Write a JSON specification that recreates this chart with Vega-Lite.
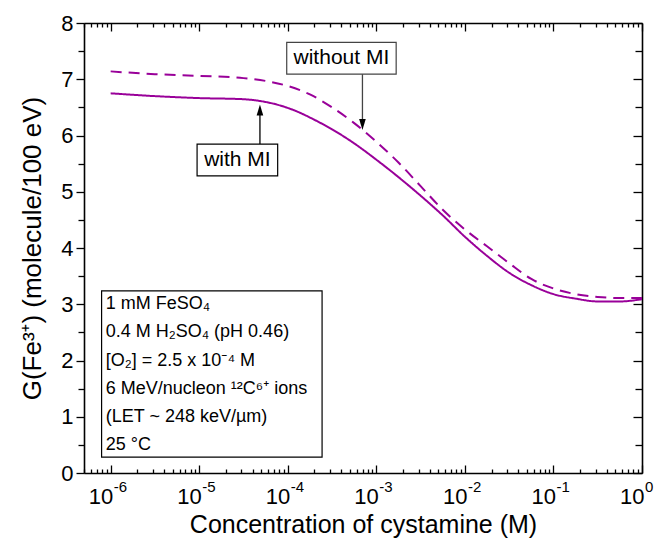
{
  "$schema": "https://vega.github.io/schema/vega-lite/v6.json",
  "width": 558,
  "height": 450,
  "autosize": {"type": "none"},
  "padding": {"left": 84, "top": 23, "right": 19, "bottom": 75},
  "config": {
    "font": "Liberation Sans",
    "view": {"stroke": null},
    "axis": {
      "domainColor": "black",
      "domainWidth": 1.6,
      "tickColor": "black",
      "tickWidth": 1.3,
      "labelColor": "black",
      "titleColor": "black",
      "grid": false,
      "labelFont": "Liberation Sans",
      "titleFont": "Liberation Sans, Noto Sans",
      "titleFontWeight": "normal",
      "labelOverlap": false,
      "labelFlush": false,
      "labelBound": false
    }
  },
  "datasets": {
    "curves": [
      {"c": 1e-6, "g": 6.75, "s": "with MI"},
      {"c": 3.162e-6, "g": 6.70, "s": "with MI"},
      {"c": 1e-5, "g": 6.665, "s": "with MI"},
      {"c": 3.162e-5, "g": 6.645, "s": "with MI"},
      {"c": 5.012e-5, "g": 6.61, "s": "with MI"},
      {"c": 7.943e-5, "g": 6.54, "s": "with MI"},
      {"c": 1.259e-4, "g": 6.43, "s": "with MI"},
      {"c": 1.995e-4, "g": 6.28, "s": "with MI"},
      {"c": 3.162e-4, "g": 6.11, "s": "with MI"},
      {"c": 5.623e-4, "g": 5.86, "s": "with MI"},
      {"c": 1e-3, "g": 5.57, "s": "with MI"},
      {"c": 1.778e-3, "g": 5.26, "s": "with MI"},
      {"c": 3.162e-3, "g": 4.93, "s": "with MI"},
      {"c": 5.623e-3, "g": 4.58, "s": "with MI"},
      {"c": 0.01, "g": 4.20, "s": "with MI"},
      {"c": 0.01778, "g": 3.86, "s": "with MI"},
      {"c": 0.03162, "g": 3.56, "s": "with MI"},
      {"c": 0.05623, "g": 3.34, "s": "with MI"},
      {"c": 0.1, "g": 3.18, "s": "with MI"},
      {"c": 0.1778, "g": 3.10, "s": "with MI"},
      {"c": 0.3162, "g": 3.05, "s": "with MI"},
      {"c": 0.5623, "g": 3.05, "s": "with MI"},
      {"c": 1, "g": 3.09, "s": "with MI"},
      {"c": 1e-6, "g": 7.14, "s": "without MI"},
      {"c": 3.162e-6, "g": 7.09, "s": "without MI"},
      {"c": 1e-5, "g": 7.06, "s": "without MI"},
      {"c": 3.162e-5, "g": 7.02, "s": "without MI"},
      {"c": 5.623e-5, "g": 6.97, "s": "without MI"},
      {"c": 1e-4, "g": 6.88, "s": "without MI"},
      {"c": 1.778e-4, "g": 6.73, "s": "without MI"},
      {"c": 3.162e-4, "g": 6.50, "s": "without MI"},
      {"c": 5.623e-4, "g": 6.22, "s": "without MI"},
      {"c": 1e-3, "g": 5.89, "s": "without MI"},
      {"c": 1.778e-3, "g": 5.52, "s": "without MI"},
      {"c": 3.162e-3, "g": 5.10, "s": "without MI"},
      {"c": 5.623e-3, "g": 4.68, "s": "without MI"},
      {"c": 0.01, "g": 4.33, "s": "without MI"},
      {"c": 0.01778, "g": 4.03, "s": "without MI"},
      {"c": 0.03162, "g": 3.73, "s": "without MI"},
      {"c": 0.05623, "g": 3.45, "s": "without MI"},
      {"c": 0.1, "g": 3.28, "s": "without MI"},
      {"c": 0.1778, "g": 3.18, "s": "without MI"},
      {"c": 0.3162, "g": 3.13, "s": "without MI"},
      {"c": 0.5623, "g": 3.11, "s": "without MI"},
      {"c": 1, "g": 3.11, "s": "without MI"}
    ],
    "boxes": [
      {"name": "conditions", "x1": 7.9e-7, "x2": 2.44e-4, "y1": 0.283, "y2": 3.237},
      {"name": "with MI", "x1": 9.46e-6, "x2": 7.69e-5, "y1": 5.283, "y2": 5.847},
      {"name": "without MI", "x1": 9.73e-5, "x2": 1.675e-3, "y1": 7.09, "y2": 7.655}
    ],
    "labels": [
      {"name": "with MI", "c": 2.7e-5, "g": 5.568},
      {"name": "without MI", "c": 4.03e-4, "g": 7.374}
    ],
    "conditions": [
      {"t": "1 mM FeSO₄", "c": 8.8e-7, "g": 3.0},
      {"t": "0.4 M H₂SO₄ (pH 0.46)", "c": 8.8e-7, "g": 2.5},
      {"t": "[O₂] = 2.5 x 10⁻⁴ M", "c": 8.8e-7, "g": 2.0},
      {"t": "6 MeV/nucleon ¹²C⁶⁺ ions", "c": 8.8e-7, "g": 1.5},
      {"t": "(LET ~ 248 keV/µm)", "c": 8.8e-7, "g": 1.0},
      {"t": "25 °C", "c": 8.8e-7, "g": 0.5}
    ],
    "exponents": [
      {"c": 1e-6, "e": "-6"},
      {"c": 1e-5, "e": "-5"},
      {"c": 1e-4, "e": "-4"},
      {"c": 1e-3, "e": "-3"},
      {"c": 1e-2, "e": "-2"},
      {"c": 1e-1, "e": "-1"},
      {"c": 1, "e": "0"}
    ],
    "arrows": [
      {"name": "with MI", "c": 4.85e-5, "y1": 5.847, "y2": 6.4},
      {"name": "without MI", "c": 6.97e-4, "y1": 7.09, "y2": 6.25}
    ],
    "heads": [
      {"name": "with MI", "c": 4.85e-5, "g": 6.55},
      {"name": "without MI", "c": 6.97e-4, "g": 6.10}
    ]
  },
  "layer": [
    {
      "data": {"name": "curves"},
      "mark": {"type": "line", "strokeWidth": 2, "interpolate": "monotone", "clip": true},
      "encoding": {
        "x": {
          "field": "c", "type": "quantitative",
          "scale": {"type": "log", "domain": [5e-7, 1], "nice": false},
          "axis": {
            "orient": "bottom",
            "title": "Concentration of cystamine (M)",
            "values": [5e-7, 6e-7, 7e-7, 8e-7, 9e-7, 1e-6, 2e-6, 3e-6, 4e-6, 5e-6, 6e-6, 7e-6, 8e-6, 9e-6, 1e-5, 2e-5, 3e-5, 4e-5, 5e-5, 6e-5, 7e-5, 8e-5, 9e-5, 1e-4, 2e-4, 3e-4, 4e-4, 5e-4, 6e-4, 7e-4, 8e-4, 9e-4, 1e-3, 2e-3, 3e-3, 4e-3, 5e-3, 6e-3, 7e-3, 8e-3, 9e-3, 0.01, 0.02, 0.03, 0.04, 0.05, 0.06, 0.07, 0.08, 0.09, 0.1, 0.2, 0.3, 0.4, 0.5, 0.6, 0.7, 0.8, 0.9, 1],
            "labelExpr": "abs(log(datum.value)/LN10 - round(log(datum.value)/LN10)) < 0.001 ? '10' : ''",
            "labelAlign": "right",
            "labelOffset": 2,
            "tickSize": {"condition": {"test": "abs(log(datum.value)/LN10 - round(log(datum.value)/LN10)) < 0.001", "value": -8}, "value": -4},
            "labelPadding": 21,
            "labelFontSize": 22,
            "titleFontSize": 25,
            "titlePadding": 1
          }
        },
        "y": {
          "field": "g", "type": "quantitative",
          "scale": {"domain": [0, 8], "nice": false},
          "axis": {
            "orient": "left",
            "title": "G(Fe³⁺) (molecule/100 eV)",
            "values": [0, 0.5, 1, 1.5, 2, 2.5, 3, 3.5, 4, 4.5, 5, 5.5, 6, 6.5, 7, 7.5, 8],
            "labelExpr": "datum.value % 1 == 0 ? format(datum.value, 'd') : ''",
            "tickSize": {"condition": {"test": "datum.value % 1 == 0", "value": 8}, "value": 6},
            "labelPadding": 3,
            "labelFontSize": 22,
            "titleFontSize": 26,
            "titlePadding": 15
          }
        },
        "color": {"field": "s", "type": "nominal", "scale": {"domain": ["with MI", "without MI"], "range": ["#990099", "#990099"]}, "legend": null},
        "strokeDash": {"field": "s", "type": "nominal", "scale": {"domain": ["with MI", "without MI"], "range": [[1, 0], [11, 7]]}, "legend": null}
      }
    },
    {
      "data": {"name": "curves"},
      "mark": {"type": "point", "opacity": 0},
      "encoding": {
        "x": {
          "field": "c", "type": "quantitative",
          "axis": {
            "orient": "top",
            "title": null,
            "labels": false,
            "values": [5e-7, 6e-7, 7e-7, 8e-7, 9e-7, 1e-6, 2e-6, 3e-6, 4e-6, 5e-6, 6e-6, 7e-6, 8e-6, 9e-6, 1e-5, 2e-5, 3e-5, 4e-5, 5e-5, 6e-5, 7e-5, 8e-5, 9e-5, 1e-4, 2e-4, 3e-4, 4e-4, 5e-4, 6e-4, 7e-4, 8e-4, 9e-4, 1e-3, 2e-3, 3e-3, 4e-3, 5e-3, 6e-3, 7e-3, 8e-3, 9e-3, 0.01, 0.02, 0.03, 0.04, 0.05, 0.06, 0.07, 0.08, 0.09, 0.1, 0.2, 0.3, 0.4, 0.5, 0.6, 0.7, 0.8, 0.9, 1],
            "tickSize": {"condition": {"test": "abs(log(datum.value)/LN10 - round(log(datum.value)/LN10)) < 0.001", "value": -8}, "value": -4}
          }
        },
        "y": {
          "field": "g", "type": "quantitative",
          "axis": {
            "orient": "right",
            "title": null,
            "labels": false,
            "values": [0, 0.5, 1, 1.5, 2, 2.5, 3, 3.5, 4, 4.5, 5, 5.5, 6, 6.5, 7, 7.5, 8],
            "tickSize": {"condition": {"test": "datum.value % 1 == 0", "value": -9}, "value": -7}
          }
        }
      }
    },
    {
      "data": {"name": "exponents"},
      "mark": {"type": "text", "fontSize": 15, "align": "left", "baseline": "alphabetic", "dx": 3, "dy": 19, "color": "black"},
      "encoding": {
        "x": {"field": "c", "type": "quantitative", "axis": null},
        "y": {"datum": 0, "type": "quantitative", "axis": null},
        "text": {"field": "e"}
      }
    },
    {
      "data": {"name": "boxes"},
      "mark": {"type": "rect", "fill": "white", "strokeWidth": 1.2},
      "encoding": {
        "x": {"field": "x1", "type": "quantitative", "axis": null},
        "x2": {"field": "x2"},
        "y": {"field": "y1", "type": "quantitative", "axis": null},
        "y2": {"field": "y2"},
        "stroke": {"field": "name", "type": "nominal", "scale": {"domain": ["conditions", "with MI", "without MI"], "range": ["#000000", "#000000", "#444444"]}, "legend": null}
      }
    },
    {
      "data": {"name": "labels"},
      "mark": {"type": "text", "fontSize": 21, "align": "center", "baseline": "middle", "color": "black"},
      "encoding": {
        "x": {"field": "c", "type": "quantitative", "axis": null},
        "y": {"field": "g", "type": "quantitative", "axis": null},
        "text": {"field": "name"}
      }
    },
    {
      "data": {"name": "conditions"},
      "mark": {"type": "text", "fontSize": 18, "font": "Liberation Sans, Noto Sans", "align": "left", "baseline": "middle", "color": "black"},
      "encoding": {
        "x": {"field": "c", "type": "quantitative", "axis": null},
        "y": {"field": "g", "type": "quantitative", "axis": null},
        "text": {"field": "t"}
      }
    },
    {
      "data": {"name": "arrows"},
      "mark": {"type": "rule", "strokeWidth": 1.3},
      "encoding": {
        "x": {"field": "c", "type": "quantitative", "axis": null},
        "y": {"field": "y1", "type": "quantitative", "axis": null},
        "y2": {"field": "y2"},
        "stroke": {"field": "name", "type": "nominal", "scale": {"domain": ["conditions", "with MI", "without MI"], "range": ["#000000", "#000000", "#444444"]}, "legend": null}
      }
    },
    {
      "data": {"name": "heads"},
      "mark": {"type": "point", "filled": true, "opacity": 1, "size": 484, "color": "black"},
      "encoding": {
        "x": {"field": "c", "type": "quantitative", "axis": null},
        "y": {"field": "g", "type": "quantitative", "axis": null},
        "shape": {"field": "name", "type": "nominal", "scale": {"domain": ["with MI", "without MI"], "range": ["M0,0L0.3,1L-0.3,1Z", "M0,0L0.3,-1L-0.3,-1Z"]}, "legend": null}
      }
    }
  ],
  "resolve": {"axis": {"x": "independent", "y": "independent"}}
}
